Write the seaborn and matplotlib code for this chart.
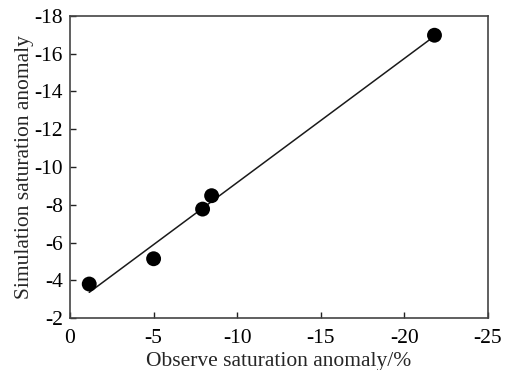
import matplotlib
matplotlib.use("Agg")
import matplotlib.pyplot as plt
import seaborn as sns
import pandas as pd

# Observed vs. simulated saturation anomaly (%)
observed = [-1.15, -5.0, -7.93, -8.47, -21.8]
simulated = [-3.8, -5.14, -7.77, -8.48, -16.98]

x_ticks = [0, -5, -10, -15, -20, -25]
y_ticks = [-2, -4, -6, -8, -10, -12, -14, -16, -18]

df = pd.DataFrame({"observed": observed, "simulated": simulated})

sns.set_theme(style="ticks")
plt.rcParams["font.family"] = ["Liberation Serif", "DejaVu Serif"]

fig = plt.figure(figsize=(5.08, 3.70), dpi=100)
ax = fig.add_axes([0.1378, 0.1405, 0.8228, 0.8163])

sns.regplot(
    data=df, x="observed", y="simulated", ax=ax, ci=None, truncate=True,
    color="black",
    scatter_kws={"s": 115, "color": "black", "alpha": 1.0,
                 "edgecolor": "none", "zorder": 3},
    line_kws={"color": "#1a1a1a", "linewidth": 1.1},
)

ax.set_xlim(0, -25)
ax.set_ylim(-2, -18)
ax.set_xticks(x_ticks)
ax.set_yticks(y_ticks)
ax.set_xticklabels([str(v) for v in x_ticks])
ax.set_yticklabels([str(v) for v in y_ticks])

ax.tick_params(direction="in", length=4, width=1.0, colors="#222222",
               labelsize=15.5, labelcolor="black", pad=5,
               top=False, right=False)
ax.tick_params(axis="x", pad=8)
for side in ax.spines.values():
    side.set_visible(True)
    side.set_linewidth(1.2)
    side.set_color("#444444")

ax.set_xlabel("Observe saturation anomaly/%", fontsize=15.5, labelpad=3)
ax.set_ylabel("Simulation saturation anomaly", fontsize=15.5, labelpad=0)

fig.savefig("out.png", dpi=100, facecolor="white")
